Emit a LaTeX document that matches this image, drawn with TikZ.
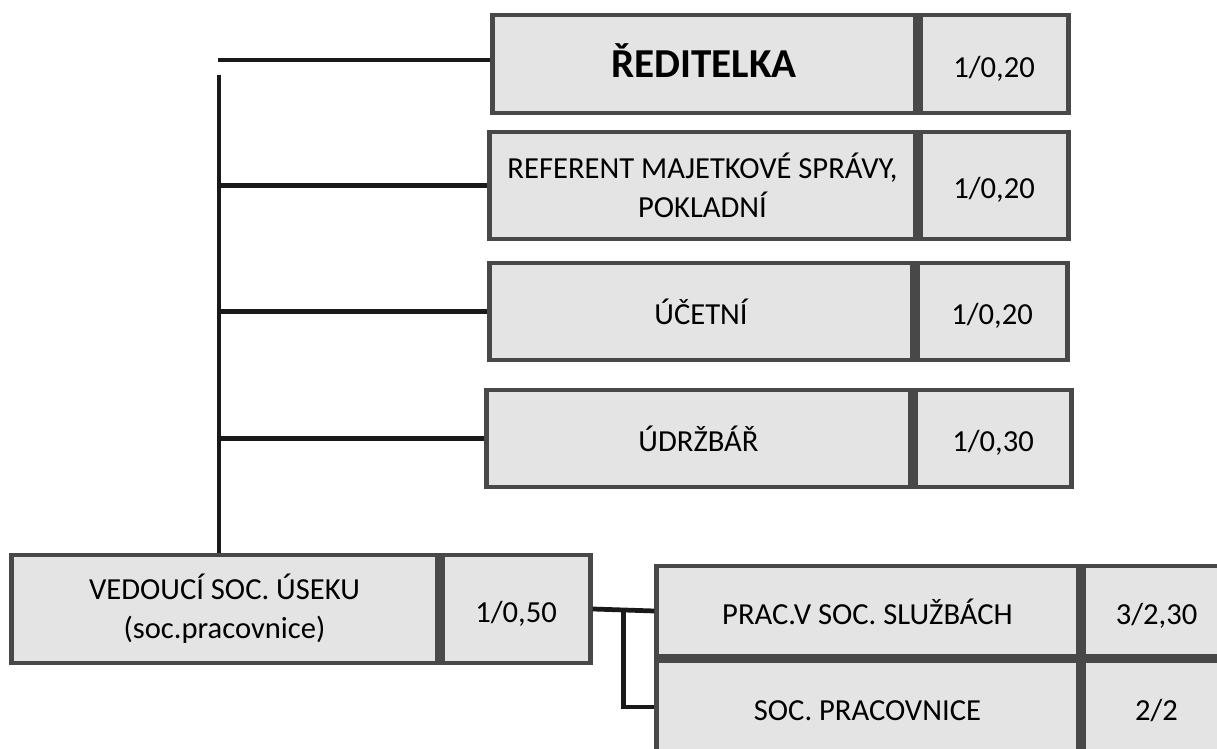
\documentclass[tikz,border=0pt]{standalone}
\usepackage{fontspec}
\setmainfont{Carlito}
\usepackage{tikz}
\usetikzlibrary{positioning, calc}
\definecolor{boxline}{RGB}{72,72,72}
\definecolor{boxfill}{RGB}{228,228,228}
\definecolor{wirecol}{RGB}{25,25,25}
\tikzset{
  unit/.style={
    rectangle, draw=boxline, line width=1.4pt, fill=boxfill,
    inner sep=2pt, align=center, font=\fontsize{8.7}{11}\selectfont
  },
  oneline/.style={text height=2.1ex, text depth=0.5ex},
  head/.style={unit, oneline, font=\fontsize{11.7}{14}\selectfont\bfseries},
  count/.style={unit, oneline, minimum width=1.48cm},
  wire/.style={draw=wirecol, line width=1.35pt},
}

\begin{document}
\begin{tikzpicture}[x=0.01cm, y=-0.01cm]
  \useasboundingbox (0,0) rectangle (1217,749);
  \clip (0,0) rectangle (1217,749);

  % management column
  \node[head, minimum width=4.22cm, minimum height=0.98cm] (red) at (704,64) {ŘEDITELKA};
  \node[count, minimum height=0.98cm, right=0pt of red] (redN) {1/0,20};
  \node[unit, minimum width=4.25cm, minimum height=1.07cm] (ref) at (702.5,185.5) {REFERENT MAJETKOVÉ SPRÁVY,\\POKLADNÍ};
  \node[count, minimum height=1.07cm, right=0pt of ref] (refN) {1/0,20};
  \node[unit, oneline, minimum width=4.22cm, minimum height=0.97cm] (uct) at (701,311.5) {ÚČETNÍ};
  \node[count, minimum width=1.50cm, minimum height=0.97cm, right=0pt of uct] (uctN) {1/0,20};
  \node[unit, oneline, minimum width=4.23cm, minimum height=0.97cm] (udr) at (698.5,438.5) {ÚDRŽBÁŘ};
  \node[count, minimum width=1.56cm, minimum height=0.97cm, right=0pt of udr] (udrN) {1/0,30};

  % social section
  \node[unit, minimum width=4.25cm, minimum height=1.08cm] (ved) at (224.5,609) {VEDOUCÍ SOC. ÚSEKU\\(soc.pracovnice)};
  \node[count, minimum height=1.08cm, right=0pt of ved] (vedN) {1/0,50};
  \node[unit, oneline, minimum width=4.21cm, minimum height=0.90cm] (prac) at (867.5,611) {PRAC.V SOC. SLUŽBÁCH};
  \node[count, minimum width=1.47cm, minimum height=0.90cm, right=0pt of prac] (pracN) {3/2,30};
  \node[unit, oneline, minimum width=4.21cm, minimum height=0.92cm, below=0pt of prac] (socp) {SOC. PRACOVNICE};
  \node[count, minimum width=1.47cm, minimum height=0.92cm, right=0pt of socp] (socpN) {2/2};

  % connectors
  \coordinate (top) at (218,60);
  \coordinate (spine) at (219,75);
  \draw[wire] (top) -- (top -| red.west);
  \draw[wire] (spine) -- (spine |- ved.north);
  \foreach \n in {ref, uct, udr}
    \draw[wire] (spine |- \n.west) -- (\n.west);
  \draw[wire] (vedN.east) -- (prac.west);
  \draw[wire] ($(vedN.east)!0.5!(prac.west)$) |- (socp.west);
\end{tikzpicture}
\end{document}
